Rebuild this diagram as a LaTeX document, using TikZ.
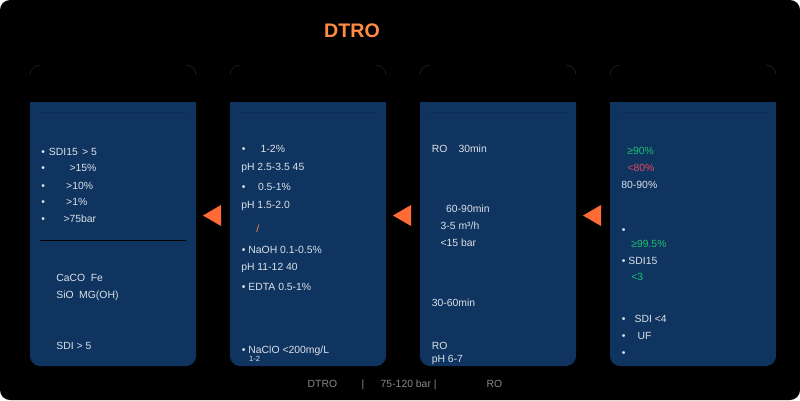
\documentclass[tikz,border=0pt]{standalone}
\usepackage{fontspec}
\setmainfont{Liberation Sans}
\usetikzlibrary{calc}
\definecolor{panelbg}{HTML}{0F3460}
\definecolor{fg}{HTML}{DCE1E8}
\definecolor{accent}{HTML}{FF8C42}
\definecolor{arrowc}{HTML}{FF6B35}
\definecolor{good}{HTML}{20C070}
\definecolor{bad}{HTML}{E94560}
\definecolor{muted}{HTML}{8A8A8A}
\definecolor{edge}{HTML}{222222}
\tikzset{
  panel/.style={fill=panelbg, rounded corners=10pt, minimum height=301pt, inner sep=0pt, outer sep=0pt},
  hdr/.style={fill=black, rounded corners=10pt},
  corner/.style={draw=edge, line width=0.6pt},
  txt/.style={text=fg, anchor=base west, inner sep=0pt, font=\fontsize{10.4}{12}\selectfont},
  ok/.style={txt, text=good},
  warn/.style={txt, text=bad},
  small/.style={txt, font=\fontsize{7.5}{9}\selectfont},
  foot/.style={txt, text=muted},
  title/.style={text=accent, anchor=base, inner sep=0pt, font=\fontsize{19.6}{22}\selectfont\bfseries},
  tri/.style={fill=arrowc},
  rule/.style={draw=black, line width=1pt},
}
\begin{document}
\begin{tikzpicture}[x=1pt,y=-1pt]
\fill[white] (0,0) rectangle (800,400);
\fill[black, rounded corners=10pt] (0,0) rectangle (800,400);
\node[title] (t) at (352,37) {DTRO};
% panels
\node[panel, minimum width=166pt] (p1) at (113,215.5) {};
\node[panel, minimum width=156pt] (p2) at (308,215.5) {};
\node[panel, minimum width=156pt] (p3) at (498,215.5) {};
\node[panel, minimum width=166pt] (p4) at (693,215.5) {};
\fill[hdr] ($(p1.north west)+(-0.6,-0.6)$) rectangle ($(p1.north east)+(0.6,47)$);
\fill[hdr] ($(p2.north west)+(-0.6,-0.6)$) rectangle ($(p2.north east)+(0.6,47)$);
\fill[hdr] ($(p3.north west)+(-0.6,-0.6)$) rectangle ($(p3.north east)+(0.6,47)$);
\fill[hdr] ($(p4.north west)+(-0.6,-0.6)$) rectangle ($(p4.north east)+(0.6,47)$);
\draw[corner] ($(p1.north west)+(0,10)$) arc[start angle=180, end angle=270, radius=10];
\draw[corner] ($(p1.north east)+(-10,0)$) arc[start angle=270, end angle=360, radius=10];
\draw[corner] ($(p2.north west)+(0,10)$) arc[start angle=180, end angle=270, radius=10];
\draw[corner] ($(p2.north east)+(-10,0)$) arc[start angle=270, end angle=360, radius=10];
\draw[corner] ($(p3.north west)+(0,10)$) arc[start angle=180, end angle=270, radius=10];
\draw[corner] ($(p3.north east)+(-10,0)$) arc[start angle=270, end angle=360, radius=10];
\draw[corner] ($(p4.north west)+(0,10)$) arc[start angle=180, end angle=270, radius=10];
\draw[corner] ($(p4.north east)+(-10,0)$) arc[start angle=270, end angle=360, radius=10];
\fill[panelbg] ($(p1.north west)+(0,37)$) rectangle ($(p1.north east)+(0,47)$);
\fill[panelbg] ($(p2.north west)+(0,37)$) rectangle ($(p2.north east)+(0,47)$);
\fill[panelbg] ($(p3.north west)+(0,37)$) rectangle ($(p3.north east)+(0,47)$);
\fill[panelbg] ($(p4.north west)+(0,37)$) rectangle ($(p4.north east)+(0,47)$);
% arrows between panels
\coordinate (m12) at ($(p1.east)!0.5!(p2.west)$);
\coordinate (m23) at ($(p2.east)!0.5!(p3.west)$);
\coordinate (m34) at ($(p3.east)!0.5!(p4.west)$);
\fill[tri] ($(m12)+(-10,0)$) -- ($(m12)+(8,-10.5)$) -- ($(m12)+(8,10.5)$) -- cycle;
\fill[tri] ($(m23)+(-10,0)$) -- ($(m23)+(8,-10.5)$) -- ($(m23)+(8,10.5)$) -- cycle;
\fill[tri] ($(m34)+(-10,0)$) -- ($(m34)+(8,-10.5)$) -- ($(m34)+(8,10.5)$) -- cycle;
% panel 1
\node[txt] (a1) at (41.1,155) {•\hspace*{4pt}SDI15\hspace*{4.4pt}>\ 5};
\node[txt] (a2) at (41.1,171.7) {•\hspace*{24.6pt}>15\%};
\node[txt] (a3) at (41.1,189) {•\hspace*{21.3pt}>10\%};
\node[txt] (a4) at (41.1,205.7) {•\hspace*{21.3pt}>1\%};
\node[txt] (a5) at (41.1,222.7) {•\hspace*{18.6pt}>75bar};
\draw[rule] (40,240.3) -- (186,240.3);
\node[txt] (a6) at (56.2,281) {CaCO\hspace*{5.5pt}Fe};
\node[txt] (a7) at (56.2,298) {SiO\hspace*{5.5pt}MG(OH)};
\node[txt] (a8) at (56.2,349) {SDI > 5};
% panel 2
\node[txt] (b1) at (241.7,152.3) {•\hspace*{15.2pt}1-2\%};
\node[txt] (b2) at (241.1,170.7) {pH 2.5-3.5 45};
\node[txt] (b3) at (241.7,190.7) {•\hspace*{12.5pt}0.5-1\%};
\node[txt] (b4) at (241.1,208.3) {pH 1.5-2.0};
\node[txt, text=accent] (b5) at (256.2,232.3) {/};
\node[txt] (b6) at (241.7,253.3) {• NaOH 0.1-0.5\%};
\node[txt] (b7) at (241.1,270) {pH 11-12 40};
\node[txt] (b8) at (241.7,290.7) {• EDTA 0.5-1\%};
\node[txt] (b9) at (241.7,353.3) {• NaClO <200mg/L};
\node[small] (b10) at (249,361.7) {1-2};
% panel 3
\node[txt] (c1) at (431.6,152.7) {RO\hspace*{11.1pt}30min};
\node[txt] (c2) at (446,212.7) {60-90min};
\node[txt] (c3) at (440.4,229.3) {3-5 m³/h};
\node[txt] (c4) at (440.4,246.7) {<15 bar};
\node[txt] (c5) at (431.6,306.7) {30-60min};
\node[txt] (c6) at (431.6,349.3) {RO};
\node[txt] (c7) at (431.6,362) {pH 6-7};
% panel 4
\node[ok] (d1) at (627.2,154.3) {≥90\%};
\node[warn] (d2) at (627.4,171.7) {<80\%};
\node[txt] (d3) at (621.2,188.3) {80-90\%};
\node[txt] (d4) at (621.7,233) {•};
\node[ok] (d5) at (631.1,247.7) {≥99.5\%};
\node[txt] (d6) at (621.7,264.3) {• SDI15};
\node[ok] (d7) at (631.1,280) {<3};
\node[txt] (d8) at (621.7,322.7) {•\hspace*{9.1pt}SDI <4};
\node[txt] (d9) at (621.7,339.3) {•\hspace*{12.1pt}UF};
\node[txt] (d10) at (621.7,356) {•};
% footer
\node[foot] (f1) at (307.5,387.7) {DTRO};
\node[foot] (f2) at (361.3,387.7) {|};
\node[foot] (f3) at (380.5,387.7) {75-120 bar |};
\node[foot] (f4) at (486.3,387.7) {RO};
\end{tikzpicture}
\end{document}
